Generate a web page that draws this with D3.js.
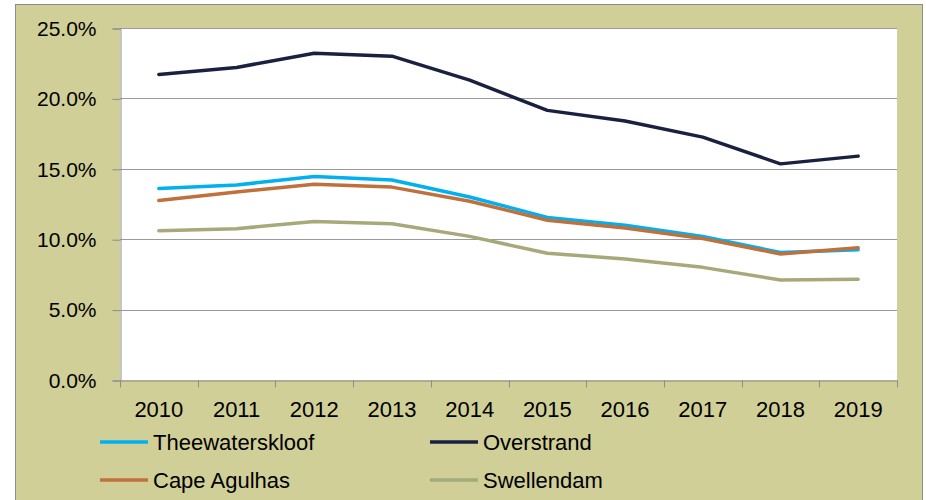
<!DOCTYPE html>
<html>
<head>
<meta charset="utf-8">
<script src="https://cdn.jsdelivr.net/npm/d3@7"></script>
<style>
  body { margin: 0; background: #fff; }
  svg text { font-family: "Liberation Sans", Arial, sans-serif; fill: #000; }
</style>
</head>
<body>
<div id="chart"></div>
<script>
// data (unemployment rate)
const years = ["2010","2011","2012","2013","2014","2015","2016","2017","2018","2019"];
const theewaterskloof = [13.6, 13.85, 14.45, 14.2, 13.0, 11.55, 11.0, 10.2, 9.05, 9.25];
const overstrand      = [21.7, 22.2, 23.2, 23.0, 21.3, 19.15, 18.4, 17.25, 15.35, 15.9];
const capeAgulhas     = [12.75, 13.35, 13.9, 13.7, 12.7, 11.35, 10.8, 10.05, 8.95, 9.4];
const swellendam      = [10.6, 10.75, 11.25, 11.1, 10.2, 9.0, 8.6, 8.0, 7.1, 7.15];
const yTicks = [0, 5, 10, 15, 20, 25];

const seriesNames = ["Theewaterskloof", "Overstrand", "Cape Agulhas", "Swellendam"];
const seriesValues = [theewaterskloof, overstrand, capeAgulhas, swellendam];
const colors = ["#00b0f0", "#1a2140", "#c0703a", "#a7a97a"];

const W = 926, H = 500;
const plot = { left: 120, right: 897, top: 28, bottom: 380 };

var svg = d3.select("#chart").append("svg")
    .attr("width", W).attr("height", H);

// background frame
svg.append("rect")
    .attr("x", 15.5).attr("y", 4.5)
    .attr("width", 907).attr("height", 510)
    .attr("fill", "#d0cf97")
    .attr("stroke", "#8c8c8c");

svg.append("rect")
    .attr("x", plot.left).attr("y", plot.top)
    .attr("width", plot.right - plot.left).attr("height", plot.bottom - plot.top)
    .attr("fill", "#fff");

var x = d3.scaleBand().domain(years).range([plot.left, plot.right]);
var y = d3.scaleLinear().domain([0, 25]).range([plot.bottom, plot.top]);

// gridlines
svg.append("g").selectAll("line")
    .data(yTicks.filter(d => d > 0))
    .enter().append("line")
    .attr("x1", plot.left).attr("x2", plot.right)
    .attr("y1", d => Math.round(y(d)) + 0.5).attr("y2", d => Math.round(y(d)) + 0.5)
    .attr("stroke", "#9a9a9a").attr("stroke-width", 1.2);

// y axis
var yAxis = svg.append("g")
    .attr("transform", `translate(${plot.left + 0.5},0.5)`)
    .call(d3.axisLeft(y).tickValues(yTicks).tickSize(8).tickPadding(16)
        .tickFormat(d => d.toFixed(1) + "%"));
yAxis.selectAll("line, path").attr("stroke", "#8c8c8c");
yAxis.selectAll("text").style("font-size", "21px");

// x axis
var xAxis = svg.append("g")
    .attr("transform", `translate(0,${plot.bottom + 0.5})`)
    .call(d3.axisBottom(x).tickSize(0).tickPadding(21));
xAxis.select("path").attr("stroke", "#8c8c8c");
xAxis.selectAll("text").style("font-size", "22px");
xAxis.selectAll(".sep")
    .data(years.concat(["end"]))
    .enter().append("line")
    .attr("class", "sep")
    .attr("x1", (d, i) => Math.round(plot.left + i * x.step()) + 0.5)
    .attr("x2", (d, i) => Math.round(plot.left + i * x.step()) + 0.5)
    .attr("y1", 0).attr("y2", 7)
    .attr("stroke", "#8c8c8c");

// lines
var line = d3.line()
    .x((d, i) => x(years[i]) + x.bandwidth() / 2)
    .y(d => y(d));

svg.append("g").selectAll("path")
    .data(seriesValues)
    .enter().append("path")
    .attr("d", d => line(d))
    .attr("fill", "none")
    .attr("stroke", (d, i) => colors[i])
    .attr("stroke-width", 3.5)
    .attr("stroke-linejoin", "round")
    .attr("stroke-linecap", "round");

// legend
var legendPos = [[100, 442], [430, 442], [100, 480], [430, 480]];
var legend = svg.append("g").selectAll("g")
    .data(seriesNames)
    .enter().append("g")
    .attr("transform", (d, i) => `translate(${legendPos[i][0]},${legendPos[i][1]})`);

legend.append("line")
    .attr("x1", 0).attr("x2", 48)
    .attr("stroke", (d, i) => colors[i])
    .attr("stroke-width", 3.5);

legend.append("text")
    .attr("x", 53).attr("dy", "0.36em")
    .style("font-size", "22px")
    .text(d => d);
</script>
</body>
</html>
